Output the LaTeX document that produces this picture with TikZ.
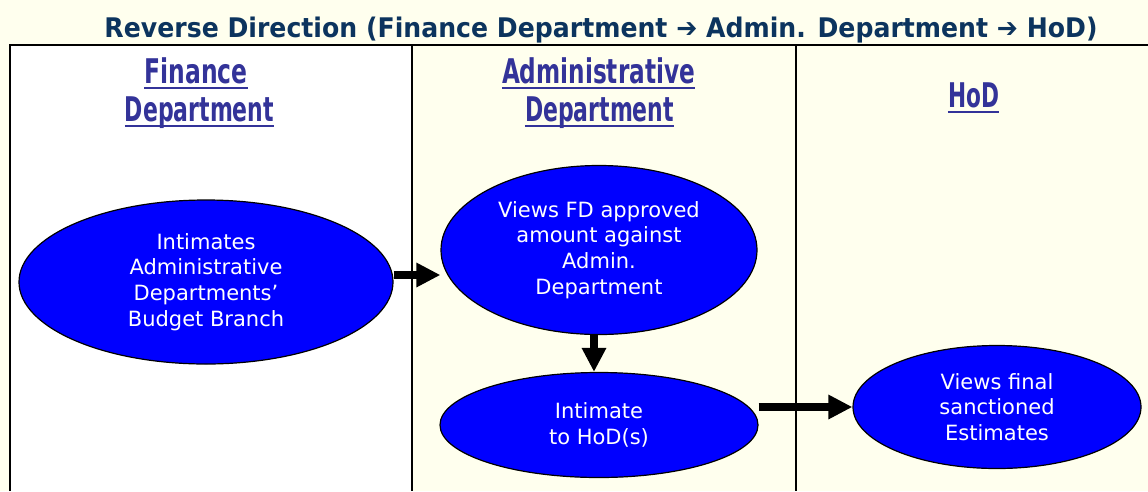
\documentclass[tikz,border=0pt]{standalone}
\usepackage{fontspec}
\usepackage{graphicx}
\setmainfont{DejaVu Sans}
\usetikzlibrary{shapes.geometric,arrows.meta,positioning}

\definecolor{bgyellow}{RGB}{255,255,238}
\definecolor{titleblue}{RGB}{12,52,94}
\definecolor{hdrblue}{RGB}{51,51,153}
\definecolor{bubbleblue}{RGB}{0,0,255}

\tikzset{
  bubble/.style={ellipse,draw=black,line width=1.2pt,fill=bubbleblue,text=white,
    align=center,inner sep=0pt,font=\fontsize{21}{25.7}\selectfont},
  hdr/.style={anchor=base,inner sep=0pt,text=hdrblue,font=\fontsize{34}{40}\selectfont\bfseries},
  hdrline/.style={draw=hdrblue,line width=2.4pt},
  tblline/.style={draw=black,line width=2.5pt},
  flow/.style={line width=8pt,-{Triangle[length=24pt,width=23pt]}}
}

\begin{document}
\begin{tikzpicture}[x=1pt,y=-1pt]
    \useasboundingbox (0,0) rectangle (1148,491);
    \fill[bgyellow] (0,0) rectangle (1148,491);
    \fill[white] (10,45) rectangle (412,491);
    % lanes
    \draw[tblline] (10,491) -- (10,45) -- (1148,45);
    \draw[tblline] (412,45) -- (412,491);
    \draw[tblline] (796,45) -- (796,491);

    % title
    \node[anchor=base,inner sep=0pt,text=titleblue,font=\fontsize{27}{32}\selectfont\bfseries] (title) at (601,37)
      {\resizebox{993pt}{\height}{Reverse Direction (Finance Department ➔ Admin. Department ➔ HoD)}};

    % lane headers
    \node[hdr] (hfin1) at (196,83) {\resizebox{103pt}{\height}{Finance}};
    \node[hdr] (hfin2) at (199.5,121) {\resizebox{149pt}{\height}{Department}};
    \node[hdr] (hadm1) at (598.5,83) {\resizebox{193pt}{\height}{Administrative}};
    \node[hdr] (hadm2) at (599.5,121) {\resizebox{149pt}{\height}{Department}};
    \node[hdr] (hhod) at (973.5,107) {\resizebox{51pt}{\height}{HoD}};
    \foreach \h in {hfin1,hfin2,hadm1,hadm2,hhod}
      \draw[hdrline] ([yshift=-5pt]\h.base west) -- ([yshift=-5pt]\h.base east);

    % steps
    \node[bubble,minimum width=374pt,minimum height=164pt] (fin) at (206,282)
      {Intimates\\Administrative\\Departments’\\Budget Branch};
    \node[bubble,minimum width=316pt,minimum height=169pt] (views) at (599,250)
      {Views FD approved\\amount against\\Admin.\\Department};
    \node[bubble,minimum width=318pt,minimum height=105pt] (intim) at (599,425)
      {Intimate\\to HoD(s)};
    \node[bubble,minimum width=288pt,minimum height=123pt] (hodv) at (997,407)
      {Views final\\sanctioned\\Estimates};

    \draw[flow] ([yshift=7pt]fin.east) -- ([yshift=7pt]fin.east -| views.west);
    \draw[flow] ([xshift=-5pt]views.south) -- ([xshift=-5pt]intim.north);
    \draw[flow] (intim.east |- hodv.west) -- (hodv.west);
\end{tikzpicture}
\end{document}
